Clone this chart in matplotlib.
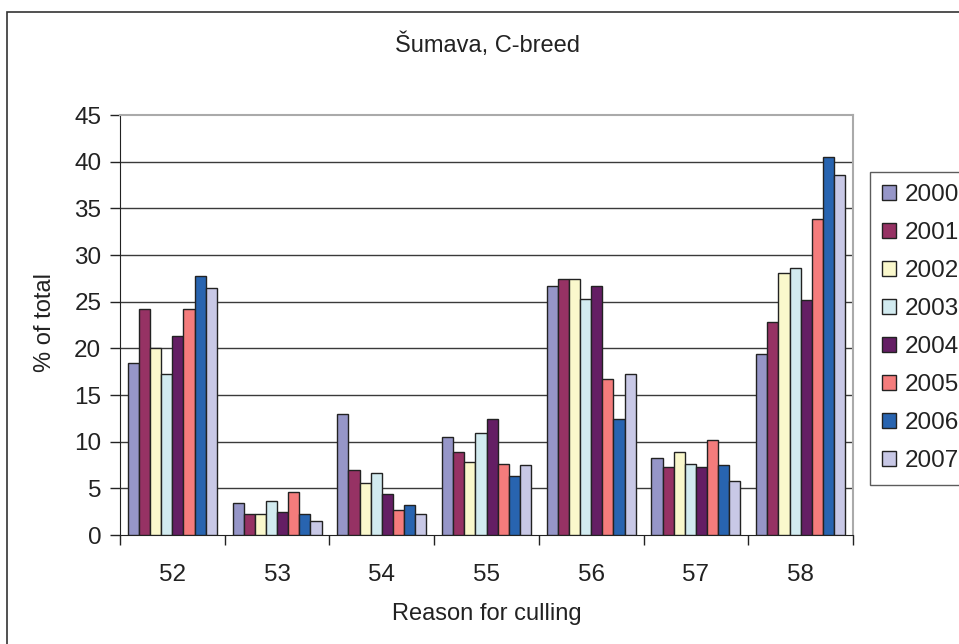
import numpy as np
import matplotlib
matplotlib.use("Agg")
from matplotlib import pyplot as plt
import matplotlib.patches as patches

plt.rcParams['font.family'] = ['Liberation Sans', 'DejaVu Sans']

# data
reasons = ['52', '53', '54', '55', '56', '57', '58']
years = ['2000', '2001', '2002', '2003', '2004', '2005', '2006', '2007']
y2000 = [18.4, 3.4, 13.0, 10.5, 26.7, 8.3, 19.4]
y2001 = [24.2, 2.2, 7.0, 8.9, 27.4, 7.3, 22.8]
y2002 = [20.0, 2.2, 5.6, 7.8, 27.4, 8.9, 28.1]
y2003 = [17.3, 3.6, 6.6, 10.9, 25.3, 7.6, 28.6]
y2004 = [21.3, 2.5, 4.4, 12.4, 26.7, 7.3, 25.2]
y2005 = [24.2, 4.6, 2.7, 7.6, 16.7, 10.2, 33.9]
y2006 = [27.8, 2.2, 3.2, 6.3, 12.4, 7.5, 40.5]
y2007 = [26.5, 1.5, 2.2, 7.5, 17.3, 5.8, 38.6]
series = [y2000, y2001, y2002, y2003, y2004, y2005, y2006, y2007]
colors = ['#9696C8', '#963264', '#FAF8CC', '#D2EBF0',
          '#641E64', '#F47C7C', '#2864B0', '#C8C8E6']


def main():
    fig = plt.figure(figsize=(9.59, 6.44), dpi=100)
    ax = fig.add_axes([120 / 959, 1 - 535 / 644, 733 / 959, 420 / 644])

    # outer chart border (cut off at right and bottom like the scan)
    border = patches.Rectangle((7 / 959, -0.2), 1.2, 1.2 - 12 / 644,
                               transform=fig.transFigure, fill=False,
                               edgecolor='#333333', linewidth=1.2)
    fig.patches.append(border)

    x = np.arange(len(reasons))
    n = len(years)
    w = 0.85 / n
    for i, vals in enumerate(series):
        ax.bar(x - 0.425 + w * (i + 0.5), vals, width=w, color=colors[i],
               edgecolor='#222222', linewidth=1.0, label=years[i], zorder=3)

    ax.set_xlim(-0.5, len(reasons) - 0.5)
    ax.set_ylim(0, 45)
    ax.set_yticks(np.arange(0, 46, 5))
    ax.set_xticks(x)
    ax.set_xticklabels(reasons)
    ax.set_xticks(np.arange(-0.5, len(reasons), 1), minor=True)
    ax.tick_params(axis='x', which='major', length=0, pad=21, labelsize=17.5,
                   labelcolor='#222222')
    ax.tick_params(axis='x', which='minor', length=7, width=1, color='#222222')
    ax.tick_params(axis='y', length=7, width=1, color='#222222', labelsize=17.5,
                   pad=6.5, labelcolor='#222222')

    for v in range(5, 45, 5):
        ax.axhline(v, color='#3a3a3a', linewidth=1.0, zorder=1)

    ax.spines['left'].set_color('#222222')
    ax.spines['bottom'].set_color('#222222')
    ax.spines['top'].set_color('#aaaaaa')
    ax.spines['right'].set_color('#aaaaaa')
    ax.spines['top'].set_linewidth(1.5)
    ax.spines['right'].set_linewidth(1.5)

    fig.text(487 / 959, 1 - 45 / 644, 'Šumava, C-breed', ha='center', va='center',
             fontsize=17, color='#222222')
    fig.text(487 / 959, 1 - 614 / 644, 'Reason for culling', ha='center', va='center',
             fontsize=17, color='#222222')
    fig.text(45 / 959, 1 - 323 / 644, '% of total', ha='center', va='center',
             rotation=90, fontsize=17, color='#222222')

    leg = fig.legend(loc='upper left', bbox_to_anchor=(870 / 959, 1 - 172 / 644),
                     bbox_transform=fig.transFigure, fontsize=17.5, frameon=True,
                     fancybox=False, edgecolor='#333333', handlelength=0.58,
                     handleheight=0.58, handletextpad=0.37, labelspacing=0.66,
                     borderpad=0.5, borderaxespad=0)
    leg.get_frame().set_linewidth(1.0)
    for t in leg.get_texts():
        t.set_color('#222222')

    fig.savefig('out.png', dpi=100)


if __name__ == "__main__":
    main()
